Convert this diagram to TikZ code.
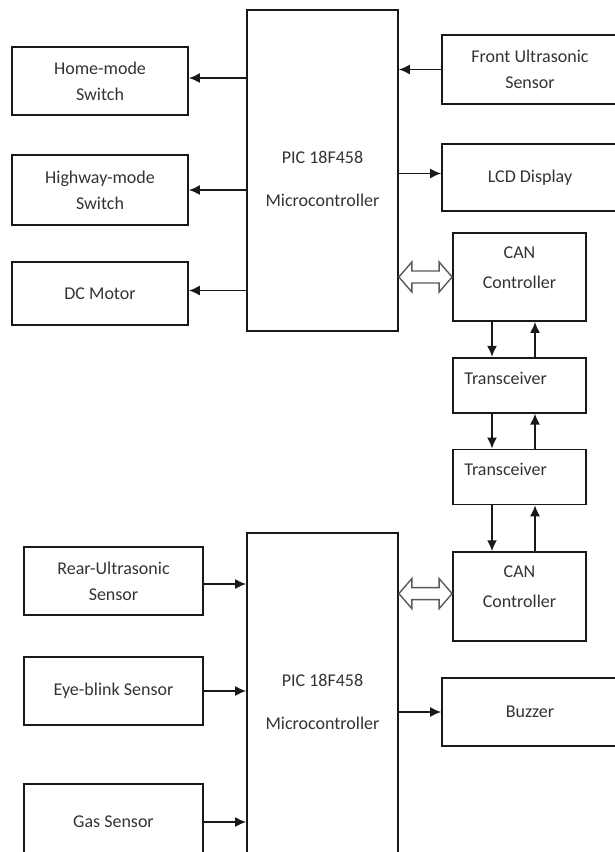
\documentclass[tikz,border=0pt]{standalone}
\usepackage{fontspec}
\setmainfont{Carlito}
\usepackage{tikz}
\usetikzlibrary{arrows.meta,calc,positioning}

% hollow two-headed arrow between the controller and the CAN block
\newcommand{\canlink}[2]{%
  \draw[bus] (#1) -- ++(13pt,15pt) -- ++(0pt,-9pt) -- ($(#2)+(-13pt,6pt)$) -- ++(0pt,9pt)
    -- (#2) -- ++(-13pt,-15pt) -- ++(0pt,9pt) -- ($(#1)+(13pt,-6pt)$) -- ++(0pt,-9pt) -- cycle;}

\begin{document}
\begin{tikzpicture}[x=1pt, y=-1pt, >={Latex[length=11pt,width=10pt]},
  blk/.style={draw=black!90, line width=1.7pt, inner sep=0pt, align=center,
    text=black!80, font=\fontsize{18}{26}\selectfont},
  txt/.style={inner sep=0pt, align=center, text=black!80, font=\fontsize{18}{26}\selectfont},
  link/.style={->, line width=1.7pt, draw=black!90},
  bus/.style={draw=black!65, line width=1.4pt, fill=white, line join=miter}]
\path[use as bounding box] (0,0) rectangle (615,852);
\clip (0,0) rectangle (615,852);

% upper controller and its blocks
\node[blk, minimum width=151pt, minimum height=321pt,
  label={[txt, yshift=-8pt]center:PIC 18F458\\[17pt]Microcontroller}] (mcuA) at (322.5,170.5) {};
\node[blk, minimum width=176pt, minimum height=68pt] (home) at (100,81) {Home-mode\\Switch};
\node[blk, minimum width=176pt, minimum height=70pt] (highway) at (100,190) {Highway-mode\\Switch};
\node[blk, minimum width=176pt, minimum height=63pt] (motor) at (100,293.5) {DC Motor};
\node[blk, minimum width=176pt, minimum height=69pt] (front) at (530,69.5) {Front Ultrasonic\\Sensor};
\node[blk, minimum width=176pt, minimum height=67pt] (lcd) at (530,177.5) {LCD Display};

% CAN chain
\node[blk, minimum width=133pt, minimum height=88pt,
  label={[txt, yshift=9pt]center:CAN\\[4pt]Controller}] (canA) at (519.5,277) {};
\node[blk, minimum width=133pt, minimum height=55pt, below=35pt of canA,
  label={[txt, anchor=west, xshift=12pt, yshift=7pt]west:Transceiver}] (trA) {};
\node[blk, minimum width=133pt, minimum height=55pt, below=35pt of trA,
  label={[txt, anchor=west, xshift=12pt, yshift=8pt]west:Transceiver}] (trB) {};
\node[blk, minimum width=133pt, minimum height=89pt, below=46pt of trB,
  label={[txt, yshift=10pt]center:CAN\\[4pt]Controller}] (canB) {};

% lower controller and its blocks
\node[blk, minimum width=151pt, minimum height=337pt,
  label={[txt]center:PIC 18F458\\[17pt]Microcontroller}] (mcuB) at (322.5,701.5) {};
\node[blk, minimum width=179pt, minimum height=68pt] (rear) at (113.5,581) {Rear-Ultrasonic\\Sensor};
\node[blk, minimum width=179pt, minimum height=68pt] (eye) at (113.5,691) {Eye-blink Sensor};
\node[blk, minimum width=179pt, minimum height=76pt] (gas) at (113.5,822) {Gas Sensor};
\node[blk, minimum width=176pt, minimum height=68pt] (buzzer) at (530,712) {Buzzer};

\draw[link] ([yshift=3pt]mcuA.west |- home.east) -- ([yshift=3pt]home.east);
\draw[link] (mcuA.west |- highway.east) -- (highway.east);
\draw[link] ([yshift=3pt]mcuA.west |- motor.east) -- ([yshift=3pt]motor.east);
\draw[link] (front.west) -- (mcuA.east |- front.west);
\draw[link] ([yshift=4pt]mcuA.east |- lcd.west) -- ([yshift=4pt]lcd.west);

\foreach \a/\b in {canA/trA, trA/trB, trB/canB} {
  \draw[link] ([xshift=-27.5pt]\a.south) -- ([xshift=-27.5pt]\b.north);
  \draw[link] ([xshift=15.5pt]\b.north) -- ([xshift=15.5pt]\a.south);
}

\draw[link] ([yshift=-3pt]rear.east) -- ([yshift=-3pt]mcuB.west |- rear.east);
\draw[link] (eye.east) -- (mcuB.west |- eye.east);
\draw[link] (gas.east) -- (mcuB.west |- gas.east);
\draw[link] (mcuB.east |- buzzer.west) -- (buzzer.west);

\coordinate (busA) at (mcuA.east |- canA.west);
\coordinate (busB) at ([yshift=3pt]mcuB.east |- canB.west);
\coordinate (busC) at ([yshift=3pt]canB.west);
\canlink{busA}{canA.west}
\canlink{busB}{busC}
\end{tikzpicture}
\end{document}
